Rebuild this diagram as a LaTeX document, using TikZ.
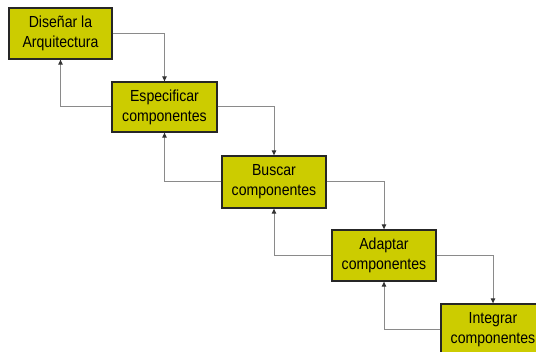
\documentclass[tikz,border=0pt]{standalone}
\usepackage{fontspec}
\setmainfont{Liberation Sans}[FakeStretch=0.88]
\usetikzlibrary{arrows.meta}
\definecolor{boxfill}{HTML}{CCCC00}
\definecolor{linkgray}{HTML}{8A8A8A}
\tikzset{
  stage/.style={draw=black!85, line width=1.3pt, fill=boxfill,
    minimum width=104pt, minimum height=51pt, align=center, inner sep=0pt,
    font=\fontsize{16}{20}\selectfont},
  link/.style={draw=linkgray, line width=1pt,
    -{Triangle[length=5pt,width=4.5pt,color=black!80]}}
}
\begin{document}
\begin{tikzpicture}[x=1pt,y=-1pt]
  \useasboundingbox (0,0) rectangle (536,352);
  \clip (0,0) rectangle (536,352);
  \fill[white] (0,0) rectangle (536,352);

  \node[stage, minimum width=103pt] (b1) at (60.5,33.5) {Diseñar la\\Arquitectura};
  \node[stage, minimum width=105pt, minimum height=50pt] (b2) at (164.5,107) {Especificar\\componentes};
  \node[stage, minimum height=52pt] (b3) at (274,182) {Buscar\\componentes};
  \node[stage] (b4) at (384,255.5) {Adaptar\\componentes};
  \node[stage] (b5) at (493,329.5) {Integrar\\componentes};

  % forward steps
  \draw[link] (b1.east) -| (b2.north);
  \draw[link] (b2.east) -| (b3.north);
  \draw[link] (b3.east) -| (b4.north);
  \draw[link] (b4.east) -| (b5.north);

  % feedback to the previous step
  \draw[link] (b2.west) -| (b1.south);
  \draw[link] (b3.west) -| (b2.south);
  \draw[link] (b4.west) -| (b3.south);
  \draw[link] (b5.west) -| (b4.south);
\end{tikzpicture}
\end{document}
